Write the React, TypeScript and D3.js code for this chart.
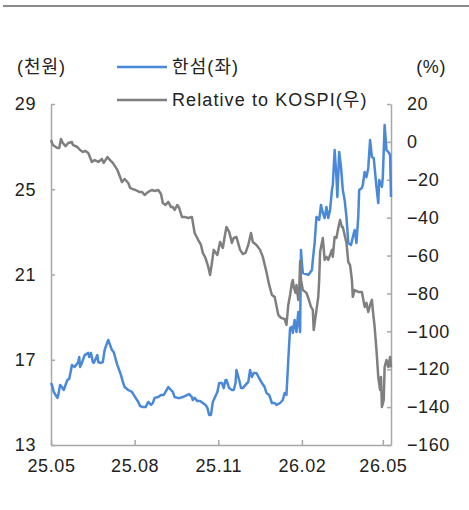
import React, { useEffect, useRef } from "react";
import * as d3 from "d3";

// 한섬 주가 (천원, 좌축)
const hansomDates = [
  "2025-05-01", "2025-05-02", "2025-05-04", "2025-05-08", "2025-05-09", "2025-05-11", "2025-05-13", "2025-05-15",
  "2025-05-19", "2025-05-21", "2025-05-23", "2025-05-24", "2025-05-27", "2025-05-31", "2025-06-01", "2025-06-02",
  "2025-06-04", "2025-06-07", "2025-06-11", "2025-06-12", "2025-06-14", "2025-06-16", "2025-06-17", "2025-06-21",
  "2025-06-22", "2025-06-25", "2025-06-27", "2025-06-29", "2025-07-02", "2025-07-03", "2025-07-05", "2025-07-07",
  "2025-07-09", "2025-07-13", "2025-07-15", "2025-07-17", "2025-07-19", "2025-07-21", "2025-07-25", "2025-07-29",
  "2025-07-31", "2025-08-05", "2025-08-07", "2025-08-10", "2025-08-13", "2025-08-16", "2025-08-19", "2025-08-21",
  "2025-08-23", "2025-08-27", "2025-08-30", "2025-09-02", "2025-09-04", "2025-09-07", "2025-09-10", "2025-09-12",
  "2025-09-14", "2025-09-17", "2025-09-20", "2025-09-23", "2025-09-28", "2025-09-30", "2025-10-03", "2025-10-04",
  "2025-10-06", "2025-10-09", "2025-10-12", "2025-10-15", "2025-10-18", "2025-10-20", "2025-10-22", "2025-10-24",
  "2025-10-26", "2025-10-28", "2025-10-31", "2025-11-02", "2025-11-05", "2025-11-07", "2025-11-09", "2025-11-10",
  "2025-11-13", "2025-11-16", "2025-11-18", "2025-11-20", "2025-11-21", "2025-11-24", "2025-11-26", "2025-11-28",
  "2025-12-01", "2025-12-04", "2025-12-06", "2025-12-08", "2025-12-10", "2025-12-13", "2025-12-16", "2025-12-19",
  "2025-12-22", "2025-12-24", "2025-12-27", "2025-12-30", "2026-01-02", "2026-01-04", "2026-01-08", "2026-01-11",
  "2026-01-13", "2026-01-15", "2026-01-17", "2026-01-19", "2026-01-21", "2026-01-22", "2026-01-24", "2026-01-26",
  "2026-01-28", "2026-01-30", "2026-01-31", "2026-02-01", "2026-02-02", "2026-02-08", "2026-02-12", "2026-02-13",
  "2026-02-15", "2026-02-17", "2026-02-20", "2026-02-22", "2026-02-24", "2026-02-26", "2026-02-28", "2026-03-02",
  "2026-03-04", "2026-03-06", "2026-03-07", "2026-03-09", "2026-03-11", "2026-03-12", "2026-03-14", "2026-03-16",
  "2026-03-18", "2026-03-20", "2026-03-22", "2026-03-24", "2026-03-27", "2026-03-29", "2026-03-31", "2026-04-02",
  "2026-04-04", "2026-04-05", "2026-04-08", "2026-04-09", "2026-04-11", "2026-04-13", "2026-04-15", "2026-04-17",
  "2026-04-19", "2026-04-21", "2026-04-24", "2026-04-26", "2026-04-27", "2026-04-30", "2026-05-01", "2026-05-03",
  "2026-05-05", "2026-05-07", "2026-05-09", "2026-05-10",
];
const hansomPrice = [
  15.91, 15.82, 15.49, 15.21, 15.35, 15.82, 15.72, 15.58,
  16.05, 16.1, 16.52, 16.75, 16.66, 16.89, 17.13, 16.66,
  16.85, 17.22, 17.32, 17.13, 17.32, 16.89, 16.85, 17.22,
  16.89, 16.85, 16.89, 17.46, 17.83, 17.93, 17.69, 17.46,
  17.36, 16.75, 16.52, 16.28, 15.96, 15.72, 15.58, 15.49,
  15.35, 15.02, 14.83, 14.78, 14.78, 15.02, 14.88, 14.97,
  15.21, 15.25, 15.35, 15.35, 15.49, 15.72, 15.58, 15.49,
  15.25, 15.21, 15.21, 15.25, 15.35, 15.39, 15.25, 15.11,
  15.21, 15.06, 15.06, 14.97, 14.88, 14.74, 14.41, 14.41,
  15.02, 15.21, 15.49, 15.91, 15.91, 15.67, 16.05, 16.05,
  15.67, 15.58, 15.58, 15.91, 16.52, 16.05, 15.67, 15.67,
  15.82, 15.96, 16.52, 16.19, 16.38, 16.38, 16.14, 15.91,
  15.72, 15.44, 15.35, 14.97, 14.97, 14.88, 14.97, 15.11,
  15.44, 15.35, 16.99, 18.49, 18.54, 18.26, 18.87, 18.3,
  19.24, 18.3, 22.15, 21.54, 21.07, 20.98, 21.21, 21.68,
  22.48, 23.7, 23.56, 24.26, 23.89, 23.65, 24.17, 23.65,
  24.03, 24.96, 25.2, 26.84, 25.57, 24.64, 26.75, 26.04,
  24.96, 24.5, 23.7, 22.48, 22.38, 22.76, 23.09, 22.48,
  23.7, 24.96, 25.06, 25.2, 25.81, 25.57, 26.0, 27.31,
  26.51, 26.47, 25.11, 24.35, 25.43, 25.11, 25.57, 28.01,
  26.84, 26.75, 26.61, 24.64,
];

// Relative to KOSPI (%, 우축)
const relDates = [
  "2025-05-01", "2025-05-03", "2025-05-08", "2025-05-10", "2025-05-12", "2025-05-14", "2025-05-17", "2025-05-20",
  "2025-05-24", "2025-05-25", "2025-05-30", "2025-06-02", "2025-06-05", "2025-06-08", "2025-06-11", "2025-06-15",
  "2025-06-18", "2025-06-22", "2025-06-26", "2025-06-28", "2025-07-02", "2025-07-05", "2025-07-08", "2025-07-13",
  "2025-07-16", "2025-07-18", "2025-07-21", "2025-07-25", "2025-07-27", "2025-07-30", "2025-08-02", "2025-08-06",
  "2025-08-09", "2025-08-12", "2025-08-16", "2025-08-20", "2025-08-23", "2025-08-27", "2025-08-30", "2025-09-01",
  "2025-09-04", "2025-09-07", "2025-09-10", "2025-09-12", "2025-09-14", "2025-09-17", "2025-09-19", "2025-09-22",
  "2025-09-25", "2025-09-29", "2025-10-03", "2025-10-06", "2025-10-10", "2025-10-13", "2025-10-15", "2025-10-18",
  "2025-10-21", "2025-10-23", "2025-10-25", "2025-10-27", "2025-10-31", "2025-11-03", "2025-11-06", "2025-11-08",
  "2025-11-10", "2025-11-13", "2025-11-16", "2025-11-18", "2025-11-21", "2025-11-25", "2025-11-28", "2025-12-01",
  "2025-12-04", "2025-12-07", "2025-12-09", "2025-12-13", "2025-12-17", "2025-12-20", "2025-12-24", "2025-12-27",
  "2025-12-30", "2026-01-02", "2026-01-06", "2026-01-09", "2026-01-13", "2026-01-15", "2026-01-17", "2026-01-19",
  "2026-01-21", "2026-01-22", "2026-01-23", "2026-01-25", "2026-01-26", "2026-01-28", "2026-01-29", "2026-01-30",
  "2026-01-31", "2026-02-02", "2026-02-06", "2026-02-08", "2026-02-11", "2026-02-13", "2026-02-14", "2026-02-16",
  "2026-02-19", "2026-02-20", "2026-02-21", "2026-02-24", "2026-02-26", "2026-02-28", "2026-03-02", "2026-03-06",
  "2026-03-07", "2026-03-09", "2026-03-11", "2026-03-13", "2026-03-15", "2026-03-17", "2026-03-18", "2026-03-20",
  "2026-03-22", "2026-03-24", "2026-03-26", "2026-03-28", "2026-03-29", "2026-03-31", "2026-04-04", "2026-04-08",
  "2026-04-09", "2026-04-11", "2026-04-13", "2026-04-15", "2026-04-17", "2026-04-19", "2026-04-20", "2026-04-22",
  "2026-04-24", "2026-04-26", "2026-04-28", "2026-04-29", "2026-04-30", "2026-05-02", "2026-05-03", "2026-05-05",
  "2026-05-07", "2026-05-09", "2026-05-10",
];
const relKospi = [
  1.0, -1.6, -3.2, -3.2, 1.5, -0.6, -2.2, -0.6,
  -0.1, -1.6, -2.7, -4.3, -5.3, -4.8, -5.9, -10.6,
  -9.6, -10.6, -9.0, -11.1, -8.0, -9.6, -11.1, -14.8,
  -18.5, -21.2, -19.6, -21.7, -24.3, -24.9, -25.4, -26.4,
  -26.4, -28.0, -26.4, -25.4, -25.9, -25.4, -27.5, -32.2,
  -33.3, -31.7, -34.4, -34.4, -35.9, -33.3, -34.9, -39.6,
  -39.6, -40.2, -39.6, -48.1, -51.8, -54.4, -58.6, -61.3,
  -66.0, -70.2, -63.9, -57.0, -59.7, -52.8, -56.0, -50.2,
  -44.9, -47.5, -53.3, -50.7, -50.2, -57.0, -59.2, -58.6,
  -54.4, -48.1, -52.8, -54.4, -57.0, -60.7, -68.7, -75.5,
  -80.8, -81.8, -91.3, -92.9, -93.5, -96.6, -86.1, -80.8,
  -74.5, -72.9, -76.6, -79.7, -75.5, -83.4, -79.2, -63.0,
  -72.9, -78.2, -79.7, -82.4, -87.1, -88.7, -99.3, -92.4,
  -81.8, -72.9, -58.1, -50.7, -62.3, -60.7, -62.3, -57.0,
  -60.7, -50.2, -50.7, -45.4, -41.2, -44.9, -44.9, -49.1,
  -53.3, -63.4, -65.0, -72.9, -81.8, -78.2, -79.2, -79.2,
  -81.8, -87.1, -85.0, -89.8, -86.1, -83.4, -88.7, -97.7,
  -109.8, -124.1, -130.9, -124.1, -139.9, -136.2, -118.8, -115.1,
  -118.8, -113.5, -119.0,
];

const xTicks = ["2025-05-01", "2025-08-01", "2025-11-01", "2026-02-01", "2026-05-01"];
const leftTicks = [13, 17, 21, 25, 29];
const rightTicks = [-160, -140, -120, -100, -80, -60, -40, -20, 0, 20];

const BLUE = "#4a88d8";
const GRAY = "#7f7f7f";
const AXIS = "#a8a8a8";
const FONT = "'Liberation Sans', 'Noto Sans CJK KR', sans-serif";

const App = () => {
  const ref = useRef<SVGSVGElement | null>(null);

  useEffect(() => {
    const svg = d3.select(ref.current);
    svg.selectAll("*").remove();

    const parse = d3.timeParse("%Y-%m-%d");
    const left = 51, right = 391, top = 104, bottom = 445;

    const x = d3.scaleTime()
      .domain([parse("2025-05-01")!, parse("2026-05-10")!])
      .range([left, right]);
    const yL = d3.scaleLinear().domain([13, 29]).range([bottom, top]);
    const yR = d3.scaleLinear().domain([-160, 20]).range([bottom, top]);

    svg.append("rect").attr("width", 469).attr("height", 510).attr("fill", "#fff");

    // 상단 구분선
    svg.append("line")
      .attr("x1", 3).attr("x2", 469).attr("y1", 6).attr("y2", 6)
      .attr("stroke", "#8a8a8a").attr("stroke-width", 2);

    const styleAxis = (g: any) => {
      g.selectAll("path, line").attr("stroke", AXIS).attr("stroke-width", 1.5);
      g.selectAll("text")
        .attr("fill", "#222")
        .attr("font-family", FONT)
        .attr("font-size", 18)
        .attr("letter-spacing", 0.6);
    };

    // 축
    svg.append("g")
      .attr("transform", `translate(${left},0)`)
      .call(d3.axisLeft(yL).tickValues(leftTicks).tickSize(-4).tickSizeOuter(0).tickPadding(15).tickFormat(d3.format("d")))
      .call(styleAxis);

    svg.append("g")
      .attr("transform", `translate(${right},0)`)
      .call(d3.axisRight(yR).tickValues(rightTicks).tickSize(-4).tickSizeOuter(0).tickPadding(16))
      .call(styleAxis);

    svg.append("g")
      .attr("transform", `translate(0,${bottom})`)
      .call(
        d3.axisBottom(x)
          .tickValues(xTicks.map((d) => parse(d)!))
          .tickSize(-5)
          .tickSizeOuter(0)
          .tickPadding(14)
          .tickFormat((d: any) => d3.timeFormat("%y.%m")(d))
      )
      .call(styleAxis);

    // 선
    const lineL = d3.line<number>()
      .x((_, i) => x(parse(hansomDates[i])!))
      .y((d) => yL(d));
    const lineR = d3.line<number>()
      .x((_, i) => x(parse(relDates[i])!))
      .y((d) => yR(d));

    svg.append("path")
      .datum(hansomPrice)
      .attr("d", lineL)
      .attr("fill", "none")
      .attr("stroke", BLUE)
      .attr("stroke-width", 2.5)
      .attr("stroke-linejoin", "round");

    svg.append("path")
      .datum(relKospi)
      .attr("d", lineR)
      .attr("fill", "none")
      .attr("stroke", GRAY)
      .attr("stroke-width", 2.5)
      .attr("stroke-linejoin", "round");

    // 단위
    const txt = (tx: number, ty: number, s: string, anchor = "start", ls = 0.6) =>
      svg.append("text")
        .attr("x", tx).attr("y", ty)
        .attr("text-anchor", anchor)
        .attr("fill", "#222")
        .attr("font-family", FONT)
        .attr("font-size", 18)
        .attr("letter-spacing", ls)
        .text(s);

    txt(17, 73, "(천원)", "start", 1);
    txt(446, 73, "(%)", "end");

    // 범례
    const legend = [
      { label: "한섬(좌)", color: BLUE, y: 67 },
      { label: "Relative to KOSPI(우)", color: GRAY, y: 100 },
    ];
    legend.forEach((l) => {
      svg.append("line")
        .attr("x1", 117).attr("x2", 167).attr("y1", l.y).attr("y2", l.y)
        .attr("stroke", l.color).attr("stroke-width", 2.5);
      txt(172, l.y + 6, l.label, "start", 1.1);
    });
  }, []);

  return (
    <svg
      ref={ref}
      width={469}
      height={510}
      style={{ position: "absolute", left: 0, top: 0, display: "block" }}
    />
  );
};

export default App;
